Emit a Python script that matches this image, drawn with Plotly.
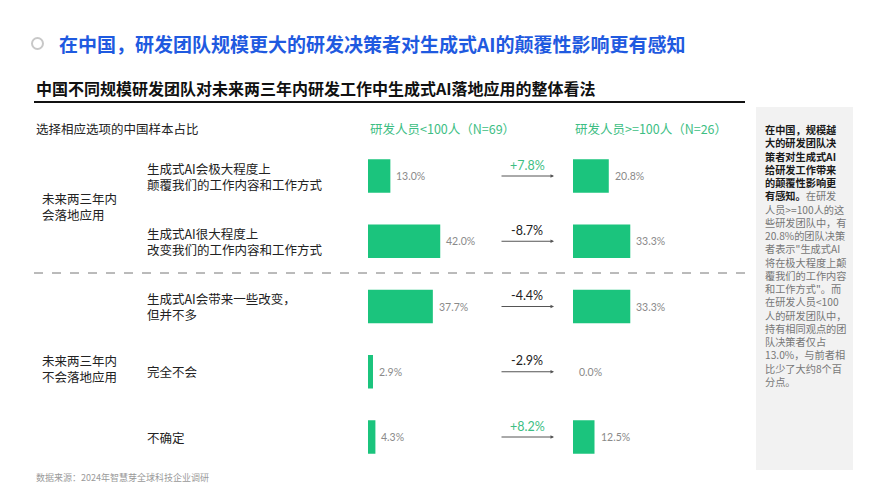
import plotly.graph_objects as go

# ---------------- data ----------------
items = [
    "生成式AI会极大程度上<br>颠覆我们的工作内容和工作方式",
    "生成式AI很大程度上<br>改变我们的工作内容和工作方式",
    "生成式AI会带来一些改变，<br>但并不多",
    "完全不会",
    "不确定",
]
small_team = [13.0, 42.0, 37.7, 2.9, 4.3]    # 研发人员<100人 (N=69)
large_team = [20.8, 33.3, 33.3, 0.0, 12.5]   # 研发人员>=100人 (N=26)
col_headers = ["研发人员<100人（N=69）", "研发人员>=100人（N=26）"]
groups = ["未来两三年内<br>会落地应用", "未来两三年内<br>不会落地应用"]

title = "在中国，研发团队规模更大的研发决策者对生成式AI的颠覆性影响更有感知"
subtitle = "中国不同规模研发团队对未来两三年内研发工作中生成式AI落地应用的整体看法"
axis_note = "选择相应选项的中国样本占比"
source = "数据来源：2024年智慧芽全球科技企业调研"
side_bold = ["在中国，规模越", "大的研发团队决", "策者对生成式AI", "给研发工作带来", "的颠覆性影响更"]
side_mixed = ("有感知。", "在研发")
side_rest = ["人员>=100人的这", "些研发团队中，有", "20.8%的团队决策", "者表示\"生成式AI",
             "将在极大程度上颠", "覆我们的工作内容", "和工作方式\"。而", "在研发人员<100",
             "人的研发团队中，", "持有相同观点的团", "队决策者仅占", "13.0%，与前者相",
             "比少了大约8个百", "分点。"]

# ---------------- styling ----------------
W, H = 889, 500
FONT = "Noto Sans CJK SC"
GREEN = "#1BC47D"
HEAD_GREEN = "#3DBE83"
BLUE = "#1F5AE0"


def px(x):
    return x / W


def py(y):
    return 1 - y / H


fig = go.Figure()

row_pitch = 65.25
top_c, bot_c = 176, 437
y_dom = [py(bot_c + row_pitch / 2), py(top_c - row_pitch / 2)]
scale = 1.72  # px per percent
lx0, rx0 = 368, 573

fig.add_trace(go.Bar(x=small_team, y=items, orientation="h", marker=dict(color=GREEN, line=dict(width=0)),
                     width=0.51, xaxis="x", yaxis="y", hoverinfo="skip"))
fig.add_trace(go.Bar(x=large_team, y=items, orientation="h", marker=dict(color=GREEN, line=dict(width=0)),
                     width=0.51, xaxis="x2", yaxis="y", hoverinfo="skip"))

ann = []
# title
ann.append(dict(text="<b>" + title + "</b>", x=px(57), y=py(44), xref="paper", yref="paper",
                xanchor="left", yanchor="middle", showarrow=False,
                font=dict(family=FONT, size=19, color=BLUE)))
ann.append(dict(text="<b>" + subtitle + "</b>", x=px(34), y=py(88), xref="paper", yref="paper",
                xanchor="left", yanchor="middle", showarrow=False,
                font=dict(family=FONT, size=16, color="#111")))
ann.append(dict(text=axis_note, x=px(34), y=py(128), xref="paper", yref="paper",
                xanchor="left", yanchor="middle", showarrow=False,
                font=dict(family=FONT, size=12.5, color="#222")))
for hx, h in zip([lx0, rx0], col_headers):
    ann.append(dict(text=h, x=px(hx), y=py(128), xref="paper", yref="paper",
                    xanchor="left", yanchor="middle", showarrow=False,
                    font=dict(family=FONT, size=12.5, color=HEAD_GREEN)))
# group labels
for gy, g in zip([207, 368], groups):
    ann.append(dict(text=g, x=px(40), y=py(gy), xref="paper", yref="paper",
                    xanchor="left", yanchor="middle", align="left", showarrow=False,
                    font=dict(family=FONT, size=12.5, color="#222")))
# item labels, values, arrows, deltas
for it, a, b in zip(items, small_team, large_team):
    ann.append(dict(text=it, x=px(145), y=it, xref="paper", yref="y",
                    xanchor="left", yanchor="middle", align="left", showarrow=False,
                    font=dict(family=FONT, size=12.5, color="#222")))
    ann.append(dict(text=f"{a:.1f}%", x=a, y=it, xref="x", yref="y", xanchor="left", yanchor="middle",
                    xshift=4, showarrow=False, font=dict(family="Lato", size=10.5, color="#8a8a8a")))
    ann.append(dict(text=f"{b:.1f}%", x=b, y=it, xref="x2", yref="y", xanchor="left", yanchor="middle",
                    xshift=4, showarrow=False, font=dict(family="Lato", size=10.5, color="#8a8a8a")))
    ann.append(dict(text="", x=px(554), y=it, xref="paper", yref="y", ax=-54, ay=0,
                    showarrow=True, arrowhead=2, arrowsize=0.7, arrowwidth=1, arrowcolor="#555"))
    d = b - a
    ann.append(dict(text=f"{d:+.1f}%", x=px(527), y=it, xref="paper", yref="y", yshift=11,
                    xanchor="center", yanchor="middle", showarrow=False,
                    font=dict(family="Lato", size=12.5, color=HEAD_GREEN if d > 0 else "#222")))
# side panel text (one block, bold lead then grey body)
side_lines = ["<b>" + ln + "</b>" for ln in side_bold]
side_lines.append("<b>" + side_mixed[0] + "</b><span style='color:#777'>" + side_mixed[1] + "</span>")
side_lines += ["<span style='color:#777'>" + ln + "</span>" for ln in side_rest]
ann.append(dict(text="<br>".join(side_lines), x=px(763), y=py(120), xref="paper", yref="paper",
                xanchor="left", yanchor="top", align="left", showarrow=False,
                font=dict(family=FONT, size=10.2, color="#1a1a1a")))
# source
ann.append(dict(text=source, x=px(34), y=py(477), xref="paper", yref="paper",
                xanchor="left", yanchor="middle", showarrow=False,
                font=dict(family=FONT, size=9, color="#9a9a9a")))

shapes = [
    dict(type="rect", xref="paper", yref="paper", x0=px(756), x1=px(853), y0=py(470), y1=py(107),
         fillcolor="#F2F2F2", line=dict(width=0), layer="below"),
    dict(type="circle", xref="paper", yref="paper", x0=px(32), x1=px(43), y0=py(49), y1=py(38),
         line=dict(color="#C8C8C8", width=2)),
    dict(type="line", xref="paper", yref="paper", x0=px(34), x1=px(745), y0=py(102), y1=py(102),
         line=dict(color="#111", width=2)),
    dict(type="line", xref="paper", yref="paper", x0=px(34), x1=px(745), y0=py(273), y1=py(273),
         line=dict(color="#777", width=1, dash="dash")),
]

fig.update_layout(
    width=W, height=H, autosize=False,
    margin=dict(l=0, r=0, t=0, b=0),
    paper_bgcolor="white", plot_bgcolor="rgba(0,0,0,0)",
    showlegend=False, barmode="overlay",
    xaxis=dict(domain=[px(lx0), px(lx0 + 100 * scale)], range=[0, 100], visible=False, fixedrange=True),
    xaxis2=dict(domain=[px(rx0), px(rx0 + 100 * scale)], range=[0, 100], visible=False, fixedrange=True,
                anchor="y"),
    yaxis=dict(domain=y_dom, type="category", categoryorder="array", categoryarray=items,
               range=[len(items) - 0.5, -0.5], visible=False, fixedrange=True),
    annotations=ann, shapes=shapes,
)

fig.write_html("out.html")
